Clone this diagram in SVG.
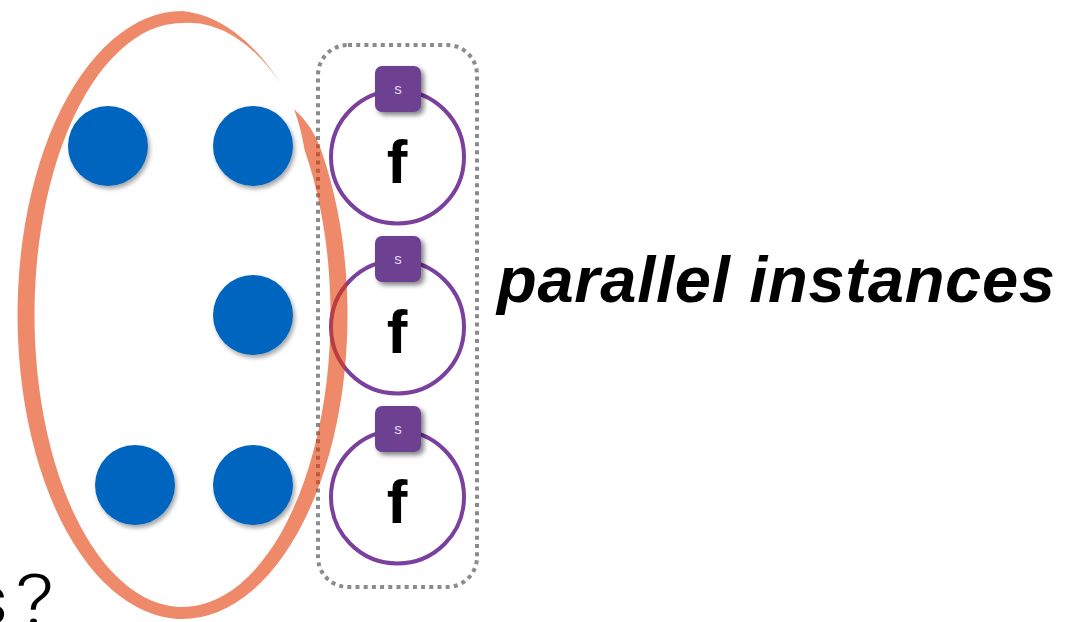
<svg xmlns="http://www.w3.org/2000/svg" width="1066" height="622" viewBox="0 0 1066 622">
  <defs>
    <filter id="dotShadow" x="-30%" y="-30%" width="160%" height="170%">
      <feDropShadow dx="2" dy="3" stdDeviation="2" flood-color="#000" flood-opacity="0.35"/>
    </filter>
    <filter id="badgeShadow" x="-30%" y="-30%" width="170%" height="170%">
      <feDropShadow dx="3" dy="3" stdDeviation="2.5" flood-color="#000" flood-opacity="0.5"/>
    </filter>
    <style>
      .dot { fill: #0565BE; filter: url(#dotShadow); }
      .ring { fill: #fff; stroke: #7B3F9E; stroke-width: 4; }
      .badge { fill: #6E3F92; filter: url(#badgeShadow); }
      .badge-label { font-family: "Liberation Sans", Arial, sans-serif; font-size: 15px; fill: #E4D8EC; text-anchor: middle; }
      .fn { font-family: "Liberation Sans", Arial, sans-serif; font-size: 62px; font-weight: bold; fill: #000; text-anchor: middle; }
      .frame { fill: none; stroke: #8A8B8F; stroke-width: 4; stroke-dasharray: 4 4.2; }
      .title { font-family: "Liberation Sans", Arial, sans-serif; font-size: 65px; font-weight: bold; font-style: italic; fill: #000; }
      .question { font-family: Roboto, "Liberation Sans", sans-serif; font-weight: 300; font-size: 70px; fill: #000; }
    </style>
  </defs>

  <!-- dotted frame around the function instances -->
  <g id="instances-frame">
    <rect class="frame" x="318" y="45" width="159" height="542" rx="30" ry="30"/>
  </g>

  <!-- data points -->
  <g id="point-1"><circle class="dot" cx="108" cy="146" r="40"/></g>
  <g id="point-2"><circle class="dot" cx="253" cy="146" r="40"/></g>
  <g id="point-3"><circle class="dot" cx="253" cy="315" r="40"/></g>
  <g id="point-4"><circle class="dot" cx="135" cy="485" r="40"/></g>
  <g id="point-5"><circle class="dot" cx="253" cy="485" r="40"/></g>

  <!-- function instances with state badges -->
  <g id="instance-1">
    <circle class="ring" cx="397.5" cy="157" r="66.5"/>
    <rect class="badge" x="375" y="66" width="46" height="46" rx="7"/>
    <text class="badge-label" x="398" y="94">s</text>
    <text class="fn" x="397" y="183">f</text>
  </g>
  <g id="instance-2">
    <circle class="ring" cx="397.5" cy="327" r="66.5"/>
    <rect class="badge" x="375" y="236" width="46" height="46" rx="7"/>
    <text class="badge-label" x="398" y="264">s</text>
    <text class="fn" x="397" y="353">f</text>
  </g>
  <g id="instance-3">
    <circle class="ring" cx="397.5" cy="497" r="66.5"/>
    <rect class="badge" x="375" y="406" width="46" height="46" rx="7"/>
    <text class="badge-label" x="398" y="434">s</text>
    <text class="fn" x="397" y="523">f</text>
  </g>

  <!-- hand-drawn lasso around the points: one filled brush shape,
       tapered at both ends, translucent over the frame and rings -->
  <g id="lasso" opacity="0.6">
    <path fill="#E33C05" d="M 294 109
      Q 313 126 321.1 150
      A 165 304 0 1 1 182.5 11
      A 165 304 0 0 1 281 84
      A 152 296 0 0 0 182.5 23
      A 148 292 0 1 0 304.6 150
      Q 301 128 294 109 Z"/>
  </g>

  <!-- labels -->
  <g id="labels">
    <text class="title" x="497" y="302" textLength="558">parallel instances</text>
    <text class="question" x="8" y="624" text-anchor="end">s</text>
    <text class="question" x="15" y="624" textLength="39" lengthAdjust="spacingAndGlyphs">?</text>
  </g>
</svg>
